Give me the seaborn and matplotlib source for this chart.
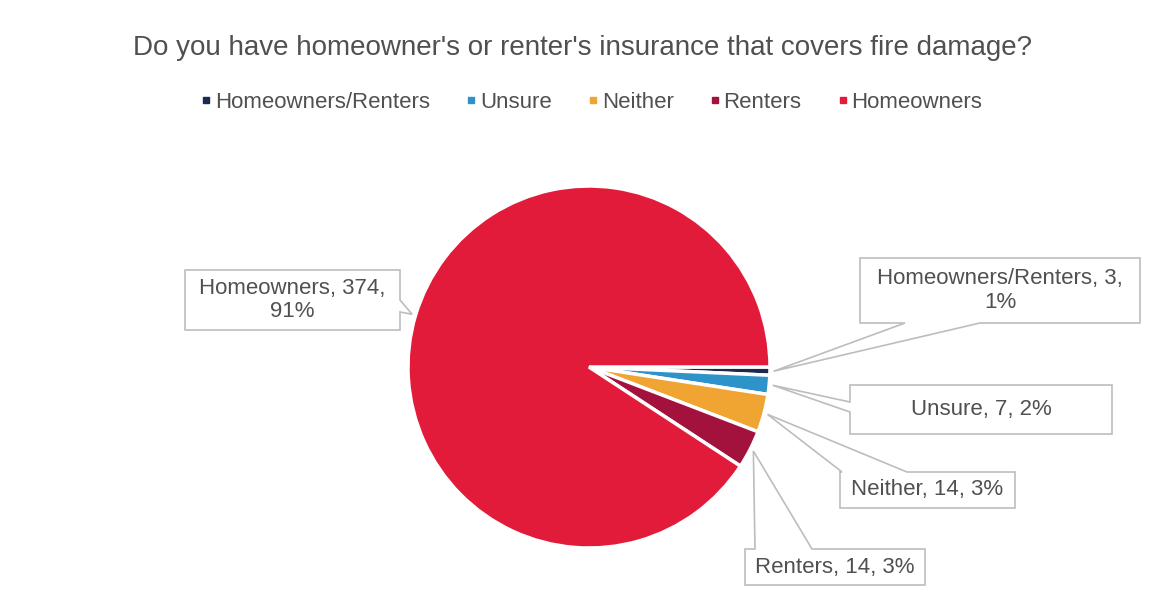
import numpy as np
import matplotlib
matplotlib.use("Agg")
import matplotlib.pyplot as plt
from matplotlib.patches import Polygon
from matplotlib.lines import Line2D
import seaborn as sns

# Survey responses
categories = ["Homeowners/Renters", "Unsure", "Neither", "Renters", "Homeowners"]
counts = [3, 7, 14, 14, 374]
colors = ["#1B2A4E", "#2E93C9", "#F0A431", "#A3123D", "#E31B3B"]
title = "Do you have homeowner's or renter's insurance that covers fire damage?"

sns.set_theme(style="white")
plt.rcParams["font.family"] = ["Liberation Sans", "DejaVu Sans"]

TEXT = "#505050"
EDGE = "#BDBDBD"

W, H = 1156, 615
CX, CY, R = 589, 367, 181

fig = plt.figure(figsize=(W / 100, H / 100), dpi=100)
fig.patch.set_facecolor("white")
ax = fig.add_axes([(CX - R) / W, (H - CY - R) / H, 2 * R / W, 2 * R / H])

wedges, _ = ax.pie(counts, colors=colors, startangle=0, counterclock=False,
                   radius=1, wedgeprops=dict(edgecolor="white", linewidth=2.5))
ax.set_aspect("auto")
ax.set_xlim(-1, 1)
ax.set_ylim(-1, 1)
ax.axis("off")


def to_data(px, py):
    return ((px - CX) / R, (CY - py) / R)


# Callout boxes: (x0, y0, x1, y1) in pixels, edge carrying the pointer, pointer base
callouts = {
    "Homeowners/Renters": ((860, 258, 1140, 323), "bottom", (980, 905), True),
    "Unsure": ((850, 385, 1112, 434), "left", (412, 402), False),
    "Neither": ((840, 472, 1015, 508), "top", (842, 907), False),
    "Renters": ((745, 549, 925, 585), "top", (755, 812), False),
    "Homeowners": ((185, 270, 400, 330), "right", (300, 312), True),
}

total = sum(counts)
for cat, cnt, w in zip(categories, counts, wedges):
    (x0, y0, x1, y1), edge, (a, b), wrap = callouts[cat]
    mid = np.deg2rad((w.theta1 + w.theta2) / 2)
    anchor = (1.02 * np.cos(mid), 1.02 * np.sin(mid))
    TL, TR, BR, BL = (x0, y0), (x1, y0), (x1, y1), (x0, y1)
    if edge == "top":
        tail = [(a, y0), None, (b, y0)]
        pts = [TL] + tail + [TR, BR, BL]
    elif edge == "right":
        tail = [(x1, a), None, (x1, b)]
        pts = [TL, TR] + tail + [BR, BL]
    elif edge == "bottom":
        tail = [(a, y1), None, (b, y1)]
        pts = [TL, TR, BR] + tail + [BL]
    else:
        tail = [(x0, a), None, (x0, b)]
        pts = [TL, TR, BR, BL] + tail
    verts = [anchor if p is None else to_data(*p) for p in pts]
    ax.add_patch(Polygon(verts, closed=True, facecolor="white", edgecolor=EDGE,
                         linewidth=1.2, clip_on=False, zorder=3))
    pct = round(100 * cnt / total)
    label = f"{cat}, {cnt},\n{pct}%" if wrap else f"{cat}, {cnt}, {pct}%"
    tx, ty = to_data((x0 + x1) / 2, (y0 + y1) / 2)
    ax.text(tx, ty, label, ha="center", va="center", fontsize=16, color=TEXT,
            linespacing=1.15, clip_on=False, zorder=4)

fig.text(582 / W, 1 - 48 / H, title, ha="center", va="center",
         fontsize=20, color=TEXT)

handles = [Line2D([], [], marker="s", linestyle="none", markersize=5,
                  markerfacecolor=c, markeredgecolor=c) for c in colors]
fig.legend(handles, categories, loc="center", bbox_to_anchor=(592 / W, 1 - 102 / H),
           ncol=5, frameon=False, fontsize=16, handlelength=0.4,
           handletextpad=0.2, columnspacing=1.65, labelcolor=TEXT)

fig.savefig("out.png", dpi=100, facecolor="white")
